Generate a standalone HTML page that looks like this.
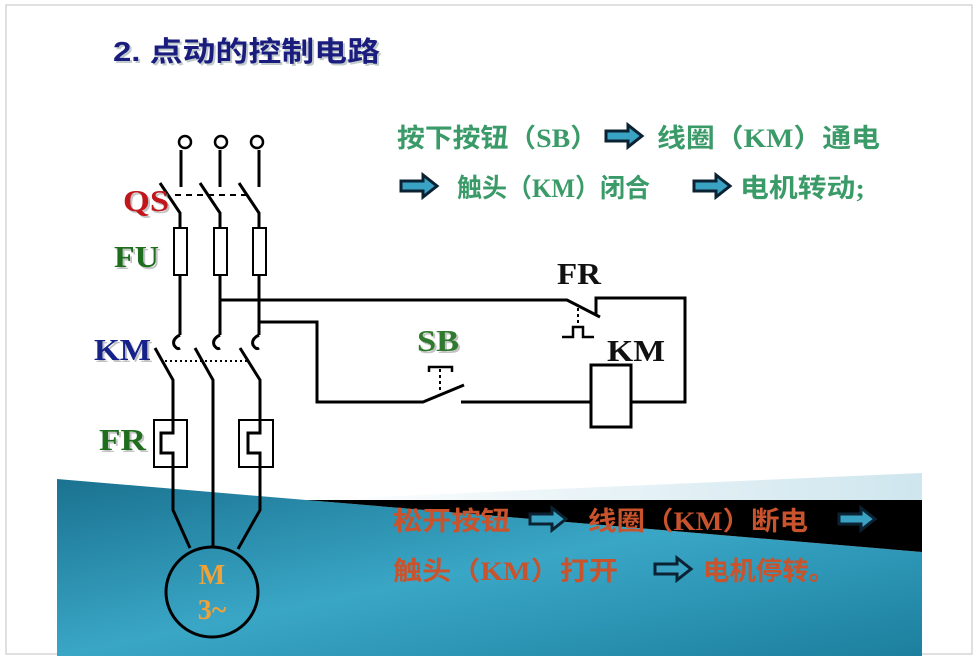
<!DOCTYPE html>
<html><head><meta charset="utf-8"><style>
html,body{margin:0;padding:0;background:#fff;}
svg{display:block;}
.cn{font-family:"Liberation Serif","Noto Sans CJK SC",serif;}
</style></head><body>
<svg width="978" height="659" viewBox="0 0 978 659" xmlns="http://www.w3.org/2000/svg">
<defs>
<linearGradient id="bl" x1="0" y1="0" x2="1" y2="1">
<stop offset="0" stop-color="#1a7290"/><stop offset="0.5" stop-color="#3aa6c6"/><stop offset="1" stop-color="#1c7f9e"/>
</linearGradient>
<linearGradient id="pl" x1="0" y1="0" x2="1" y2="0">
<stop offset="0" stop-color="#ffffff"/><stop offset="1" stop-color="#cfe6ee"/>
</linearGradient>
<g id="arr"><path d="M0,-5 H22 V-11 L36,0 L22,11 V5 H0 Z" fill="#3aa3c4" stroke="#0b2233" stroke-width="3" stroke-linejoin="miter"/></g>
</defs>
<rect x="0" y="0" width="978" height="659" fill="#fff"/>
<rect x="6" y="5" width="966" height="649" fill="#fff" stroke="#d6d6d6" stroke-width="1.5"/>
<polygon points="306,500 922,473 922,500" fill="url(#pl)"/>
<polygon points="57,479 922,552 922,656 57,656" fill="url(#bl)"/>
<polygon points="306,500 922,500 922,552" fill="#000"/>

<text x="115" y="63" font-family="Liberation Sans,'Noto Sans CJK SC',sans-serif" font-weight="bold" font-size="28" fill="#9aa" opacity="0.6" textLength="267" lengthAdjust="spacingAndGlyphs">2. 点动的控制电路</text>
<text x="113" y="61" font-family="Liberation Sans,'Noto Sans CJK SC',sans-serif" font-weight="bold" font-size="28" fill="#1b1d7e" textLength="267" lengthAdjust="spacingAndGlyphs">2. 点动的控制电路</text>

<g class="cn" font-size="26" fill="#3a9a68" font-weight="bold" lengthAdjust="spacingAndGlyphs">
<text x="397" y="147" textLength="201" lengthAdjust="spacingAndGlyphs">按下按钮（SB）</text>
<text x="657" y="147" textLength="223" lengthAdjust="spacingAndGlyphs">线圈（KM）通电</text>
<text x="457" y="197" textLength="193" lengthAdjust="spacingAndGlyphs">触头（KM）闭合</text>
<text x="740" y="197" textLength="125" lengthAdjust="spacingAndGlyphs">电机转动;</text>
</g>
<use href="#arr" x="606" y="136"/>
<use href="#arr" x="401" y="186"/>
<use href="#arr" x="694" y="186"/>

<g class="cn" font-size="26" fill="#c8532c" font-weight="bold">
<text x="393" y="530" textLength="117" lengthAdjust="spacingAndGlyphs">松开按钮</text>
<text x="588" y="530" textLength="220" lengthAdjust="spacingAndGlyphs">线圈（KM）断电</text>
<text x="393" y="580" textLength="225" lengthAdjust="spacingAndGlyphs">触头（KM）打开</text>
<text x="703" y="580" textLength="132" lengthAdjust="spacingAndGlyphs">电机停转。</text>
</g>
<use href="#arr" x="530" y="519"/>
<use href="#arr" x="839" y="519"/>
<use href="#arr" x="655" y="569"/>

<g stroke="#000" stroke-width="3" fill="none">
<circle cx="185" cy="142" r="6" stroke-width="2.5"/>
<circle cx="221" cy="142" r="6" stroke-width="2.5"/>
<circle cx="257" cy="142" r="6" stroke-width="2.5"/>
<line x1="181" y1="150" x2="181" y2="187"/>
<line x1="220" y1="150" x2="220" y2="187"/>
<line x1="259" y1="150" x2="259" y2="187"/>
<polyline points="160,183 180,213 180,335"/>
<polyline points="200,183 220,213 220,335"/>
<polyline points="239,183 259,213 259,335"/>
<rect x="174" y="228" width="13" height="47" fill="#fff" stroke-width="2"/>
<rect x="214" y="228" width="13" height="47" fill="#fff" stroke-width="2"/>
<rect x="253" y="228" width="13" height="47" fill="#fff" stroke-width="2"/>
<path d="M180,335 q-8,4 -6,10 q3,5 6,3"/>
<path d="M220,335 q-8,4 -6,10 q3,5 6,3"/>
<path d="M259,335 q-8,4 -6,10 q3,5 6,3"/>
<polyline points="155,348 173,380 173,433 161,433 161,453 173,453 173,510 190,548"/>
<polyline points="195,348 213,380 213,548"/>
<polyline points="240,348 260,380 260,433 248,433 248,453 260,453 260,510 238,549"/>
<rect x="154" y="420" width="33" height="47" stroke-width="2"/>
<rect x="239" y="420" width="34" height="47" stroke-width="2"/>
<ellipse cx="212" cy="592" rx="46" ry="45"/>
<polyline points="221,300 567,300 600,317"/>
<polyline points="596,315 596,298 685,298 685,402 632,402"/>
<polyline points="259,322 317,322 317,402 423,402 464,385"/>
<line x1="461" y1="402" x2="591" y2="402"/>
<rect x="591" y="365" width="40" height="62" fill="#fff"/>
<polyline points="429,372 429,367 452,367 452,372" stroke-width="2.5"/>
<polyline points="562,337 573,337 573,327 583,327 583,337 594,337" stroke-width="2.5"/>
</g>
<g stroke="#000" stroke-width="2" stroke-dasharray="3,3" fill="none">
<line x1="175" y1="195" x2="250" y2="195" stroke-dasharray="6,5"/>
<line x1="165" y1="361" x2="248" y2="361" stroke-dasharray="2,3"/>
<line x1="440" y1="369" x2="440" y2="393"/>
<line x1="578" y1="308" x2="578" y2="325"/>
</g>

<g font-family="Liberation Serif,serif" font-weight="bold" font-size="31">
<text x="125" y="213" fill="#888" opacity="0.5" textLength="46" lengthAdjust="spacingAndGlyphs">QS</text>
<text x="123" y="211" fill="#c0161c" textLength="46" lengthAdjust="spacingAndGlyphs">QS</text>
<text x="116" y="269" fill="#888" opacity="0.5" textLength="45" lengthAdjust="spacingAndGlyphs">FU</text>
<text x="114" y="267" fill="#1e6e1e" textLength="45" lengthAdjust="spacingAndGlyphs">FU</text>
<text x="96" y="362" fill="#888" opacity="0.5" textLength="57" lengthAdjust="spacingAndGlyphs">KM</text>
<text x="94" y="360" fill="#14228a" textLength="57" lengthAdjust="spacingAndGlyphs">KM</text>
<text x="101" y="452" fill="#888" opacity="0.5" textLength="47" lengthAdjust="spacingAndGlyphs">FR</text>
<text x="99" y="450" fill="#1e6e1e" textLength="47" lengthAdjust="spacingAndGlyphs">FR</text>
<text x="419" y="353" fill="#888" opacity="0.5" textLength="42" lengthAdjust="spacingAndGlyphs">SB</text>
<text x="417" y="351" fill="#2f7a2f" textLength="42" lengthAdjust="spacingAndGlyphs">SB</text>
<text x="557" y="284" fill="#111" textLength="44" lengthAdjust="spacingAndGlyphs">FR</text>
<text x="607" y="361" fill="#111" textLength="58" lengthAdjust="spacingAndGlyphs">KM</text>
</g>
<g font-family="Liberation Serif,serif" font-weight="bold" font-size="28" fill="#f0a23a" text-anchor="middle">
<text x="212" y="584">M</text>
<text x="212" y="619">3~</text>
</g>
</svg>
</body></html>
